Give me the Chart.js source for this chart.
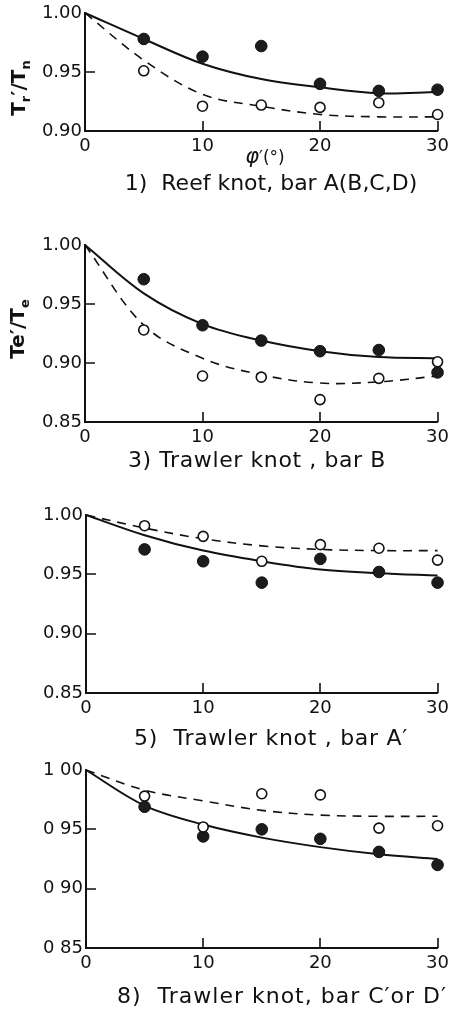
<!DOCTYPE html>
<html>
<head>
<meta charset="utf-8">
<script src="https://cdn.jsdelivr.net/npm/chart.js@4.4.1/dist/chart.umd.min.js"></script>
<style>
  html,body{margin:0;padding:0;background:#fff;}
  #wrap{position:relative;width:454px;height:1011px;overflow:hidden;font-family:"DejaVu Sans",sans-serif;color:#111;}
  canvas{position:absolute;left:0;}
  .cap{position:absolute;transform:translate(-50%,-50%);white-space:pre;font-size:22px;}
  .ytl{position:absolute;transform:translate(-50%,-50%) rotate(-90deg);white-space:nowrap;font-size:20px;font-weight:bold;}
  .ytl sub{font-size:13px;}
  .xtl{position:absolute;transform:translate(-50%,-50%);white-space:nowrap;font-size:17px;}
</style>
</head>
<body>
<div id="wrap">
  <canvas id="c1"></canvas>
  <canvas id="c2"></canvas>
  <canvas id="c3"></canvas>
  <canvas id="c4"></canvas>
  <div class="ytl" style="left:19px;top:88px;">T<sub>r</sub>′/T<sub>n</sub></div>
  <div class="ytl" style="left:18px;top:329px;">Te′/T<sub>e</sub></div>
  <div class="xtl" style="left:265px;top:156px;"><i style="font-size:21px">φ</i>′(°)</div>
  <div class="cap" style="left:271px;top:182px;">1)  Reef knot, bar A(B,C,D)</div>
  <div class="cap" style="left:257px;top:459px;letter-spacing:0.6px;">3) Trawler knot , bar B</div>
  <div class="cap" style="left:271px;top:737px;letter-spacing:0.7px;">5)  Trawler knot , bar A′</div>
  <div class="cap" style="left:282px;top:995px;letter-spacing:1px;">8)  Trawler knot, bar C′or D′</div>
</div>
<script>
// ---- data ----
const phi = [5, 10, 15, 20, 25, 30];
const curveX = [0, 5, 10, 15, 20, 25, 30];
const xTickValues = [0, 10, 20, 30];
const xTickLabels = ["0", "10", "20", "30"];

// Panel 1) Reef knot, bar A(B,C,D)
const p1Filled = [0.978, 0.963, 0.972, 0.940, 0.934, 0.935];
const p1Open   = [0.951, 0.921, 0.922, 0.920, 0.924, 0.914];
const p1Solid  = [1.000, 0.978, 0.957, 0.944, 0.937, 0.932, 0.933];
const p1Dashed = [1.000, 0.960, 0.931, 0.921, 0.914, 0.912, 0.912];
const p1YTicks = [0.90, 0.95, 1.00];
const p1YLabels = ["0.90", "0.95", "1.00"];

// Panel 3) Trawler knot, bar B
const p2Filled = [0.971, 0.932, 0.919, 0.910, 0.911, 0.892];
const p2Open   = [0.928, 0.889, 0.888, 0.869, 0.887, 0.901];
const p2Solid  = [1.000, 0.959, 0.933, 0.919, 0.910, 0.905, 0.904];
const p2Dashed = [1.000, 0.932, 0.904, 0.890, 0.883, 0.884, 0.889];
const p2YTicks = [0.85, 0.90, 0.95, 1.00];
const p2YLabels = ["0.85", "0.90", "0.95", "1.00"];

// Panel 5) Trawler knot, bar A'
const p3Filled = [0.971, 0.961, 0.943, 0.963, 0.952, 0.943];
const p3Open   = [0.991, 0.982, 0.961, 0.975, 0.972, 0.962];
const p3Solid  = [1.000, 0.983, 0.970, 0.961, 0.954, 0.951, 0.949];
const p3Dashed = [1.000, 0.989, 0.980, 0.974, 0.971, 0.970, 0.970];
const p3YTicks = [0.85, 0.90, 0.95, 1.00];
const p3YLabels = ["0.85", "0.90", "0.95", "1.00"];

// Panel 8) Trawler knot, bar C' or D'
const p4Filled = [0.969, 0.944, 0.950, 0.942, 0.931, 0.920];
const p4Open   = [0.978, 0.952, 0.980, 0.979, 0.951, 0.953];
const p4Solid  = [1.000, 0.970, 0.954, 0.943, 0.935, 0.929, 0.925];
const p4Dashed = [1.000, 0.983, 0.974, 0.966, 0.962, 0.961, 0.961];
const p4YTicks = [0.85, 0.90, 0.95, 1.00];
const p4YLabels = ["0 85", "0 90", "0 95", "1 00"];

// ---- inner tick marks plugin ----
const innerTicks = {
  id: 'innerTicks',
  afterDatasetsDraw(chart, args, opts) {
    const ctx = chart.ctx, a = chart.chartArea;
    const xs = chart.scales.x, ys = chart.scales.y;
    ctx.save();
    ctx.strokeStyle = '#111';
    ctx.lineWidth = 1.6;
    ctx.beginPath();
    (opts.x || []).forEach(v => {
      const px = Math.round(xs.getPixelForValue(v));
      ctx.moveTo(px, a.bottom); ctx.lineTo(px, a.bottom - 10);
    });
    (opts.y || []).forEach(v => {
      const py = Math.round(ys.getPixelForValue(v));
      ctx.moveTo(a.left, py); ctx.lineTo(a.left + 10, py);
    });
    ctx.stroke();
    ctx.restore();
  }
};

const tickFont = {family: 'DejaVu Sans', size: 18};

function build(id, p) {
  const canvas = document.getElementById(id);
  const padTop = 15, xH = 36;
  const h = (p.bottom - p.top) + padTop + xH;
  canvas.width = 454; canvas.height = h;
  canvas.style.width = '454px'; canvas.style.height = h + 'px';
  canvas.style.top = (p.top - padTop) + 'px';
  const pts = arr => phi.map((x, i) => ({x: x, y: arr[i]}));
  const crv = arr => curveX.map((x, i) => ({x: x, y: arr[i]}));
  new Chart(canvas, {
    type: 'scatter',
    data: {datasets: [
      {data: pts(p.open), pointRadius: 5, pointBackgroundColor: '#fff', pointBorderColor: '#111', pointBorderWidth: 1.6, clip: false},
      {data: pts(p.filled), pointRadius: 5.8, pointBackgroundColor: '#1c1c1c', pointBorderColor: '#111', pointBorderWidth: 1, clip: false},
      {type: 'line', data: crv(p.solid), borderColor: '#111', borderWidth: 2, pointRadius: 0, tension: 0.35, fill: false, clip: false},
      {type: 'line', data: crv(p.dashed), borderColor: '#111', borderWidth: 1.6, borderDash: [9, 7], pointRadius: 0, tension: 0.35, fill: false, clip: false}
    ]},
    options: {
      responsive: false, animation: false, devicePixelRatio: 1,
      layout: {padding: {top: padTop, right: 454 - p.right, left: 0, bottom: 0}},
      plugins: {legend: {display: false}, tooltip: {enabled: false}, innerTicks: {x: [10, 20, 30], y: p.innerY}},
      scales: {
        x: {
          type: 'linear', min: 0, max: 30,
          afterBuildTicks: s => { s.ticks = xTickValues.map(v => ({value: v})); },
          afterFit: s => { s.height = xH; },
          ticks: {autoSkip: false, maxRotation: 0, padding: 5, color: '#111', font: tickFont,
                  callback: v => xTickLabels[xTickValues.indexOf(v)]},
          grid: {display: false, drawTicks: false},
          border: {display: true, color: '#111', width: 2}
        },
        y: {
          type: 'linear', min: p.yTicks[0], max: p.yTicks[p.yTicks.length - 1],
          afterBuildTicks: s => { s.ticks = p.yTicks.map(v => ({value: v})); },
          afterFit: s => { s.width = p.left; },
          ticks: {autoSkip: false, padding: 3, color: '#111', font: tickFont,
                  callback: v => { const i = p.yTicks.findIndex(t => Math.abs(t - v) < 1e-6); return p.yLabels[i]; }},
          grid: {display: false, drawTicks: false},
          border: {display: true, color: '#111', width: 2}
        }
      }
    },
    plugins: [innerTicks]
  });
}

build('c1', {top: 13, bottom: 131, left: 85, right: 443, filled: p1Filled, open: p1Open, solid: p1Solid, dashed: p1Dashed, yTicks: p1YTicks, yLabels: p1YLabels, innerY: [0.95]});
build('c2', {top: 245, bottom: 422, left: 85, right: 446, filled: p2Filled, open: p2Open, solid: p2Solid, dashed: p2Dashed, yTicks: p2YTicks, yLabels: p2YLabels, innerY: [0.95, 0.90]});
build('c3', {top: 515, bottom: 693, left: 86, right: 446, filled: p3Filled, open: p3Open, solid: p3Solid, dashed: p3Dashed, yTicks: p3YTicks, yLabels: p3YLabels, innerY: [0.95, 0.90]});
build('c4', {top: 770, bottom: 948, left: 86, right: 446, filled: p4Filled, open: p4Open, solid: p4Solid, dashed: p4Dashed, yTicks: p4YTicks, yLabels: p4YLabels, innerY: [0.95, 0.90]});
</script>
</body>
</html>
